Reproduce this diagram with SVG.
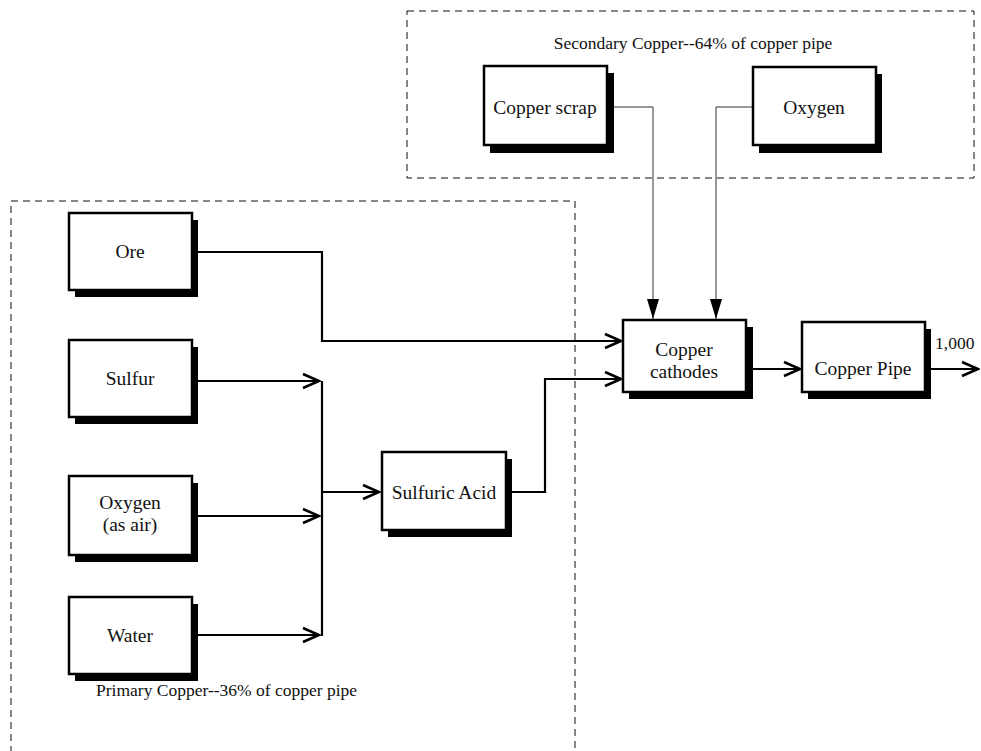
<svg xmlns="http://www.w3.org/2000/svg" width="981" height="751" viewBox="0 0 981 751">
  <style>
    .box { fill: #fff; stroke: #000; stroke-width: 2.5; }
    .shadow { fill: #000; }
    .lbl { font-family: "Liberation Serif", "Times New Roman", serif; font-size: 19.5px; fill: #111; text-anchor: middle; }
    .note { font-family: "Liberation Serif", "Times New Roman", serif; font-size: 17.5px; fill: #111; }
    .region { fill: none; stroke: #111; stroke-width: 1; stroke-dasharray: 7 5; }
    .flow { fill: none; stroke: #000; stroke-width: 2.2; }
    .thin { fill: none; stroke: #333; stroke-width: 1; }
  </style>
  <defs>
    <!-- open chevron head for the main flows -->
    <marker id="chev" viewBox="0 0 20 18" refX="19" refY="9" markerWidth="20" markerHeight="18" markerUnits="userSpaceOnUse" orient="auto">
      <path d="M2,2 L18,9 L2,16" fill="none" stroke="#000" stroke-width="2.6"/>
    </marker>
    <!-- solid head for the secondary feeds -->
    <marker id="tri" viewBox="0 0 20 12" refX="20" refY="6" markerWidth="20" markerHeight="12" markerUnits="userSpaceOnUse" orient="auto">
      <path d="M0,0 L20,6 L0,12 Z" fill="#000"/>
    </marker>
  </defs>

  <rect width="981" height="751" fill="#fff"/>

  <!-- Dashed process regions -->
  <g id="regions">
    <rect class="region" x="407" y="11" width="567" height="167"/>
    <text class="note" x="693" y="49" text-anchor="middle">Secondary Copper--64% of copper pipe</text>
    <path class="region" d="M575,760 V201 H11 V760"/>
    <text class="note" x="96" y="696">Primary Copper--36% of copper pipe</text>
  </g>

  <!-- Connectors -->
  <g id="connectors">
    <polyline class="flow" points="198,252 322,252 322,341 622,341" marker-end="url(#chev)"/>
    <polyline class="flow" points="198,381 320,381" marker-end="url(#chev)"/>
    <polyline class="flow" points="198,516 320,516" marker-end="url(#chev)"/>
    <polyline class="flow" points="198,635 320,635" marker-end="url(#chev)"/>
    <line class="flow" x1="322" y1="381" x2="322" y2="636"/>
    <polyline class="flow" points="322,492 380,492" marker-end="url(#chev)"/>
    <polyline class="flow" points="512,492 545,492 545,379 622,379" marker-end="url(#chev)"/>
    <polyline class="flow" points="753,369 801,369" marker-end="url(#chev)"/>
    <polyline class="flow" points="931,369 979,369" marker-end="url(#chev)"/>
    <text class="note" x="935" y="349">1,000</text>
    <polyline class="thin" points="614,107 653,107 653,319" marker-end="url(#tri)"/>
    <polyline class="thin" points="753,107 716,107 716,319" marker-end="url(#tri)"/>
  </g>

  <!-- Nodes -->
  <g id="ore">
    <rect class="shadow" x="75" y="220" width="123" height="77"/>
    <rect class="box" x="69" y="213" width="123" height="77"/>
    <text class="lbl" x="130" y="258">Ore</text>
  </g>
  <g id="sulfur">
    <rect class="shadow" x="75" y="347" width="123" height="77"/>
    <rect class="box" x="69" y="340" width="123" height="77"/>
    <text class="lbl" x="130" y="385">Sulfur</text>
  </g>
  <g id="oxygen-air">
    <rect class="shadow" x="75" y="483" width="123" height="79"/>
    <rect class="box" x="69" y="476" width="123" height="79"/>
    <text class="lbl" x="130" y="509">Oxygen</text>
    <text class="lbl" x="130" y="531">(as air)</text>
  </g>
  <g id="water">
    <rect class="shadow" x="75" y="604" width="123" height="77"/>
    <rect class="box" x="69" y="597" width="123" height="77"/>
    <text class="lbl" x="130" y="642">Water</text>
  </g>
  <g id="sulfuric-acid">
    <rect class="shadow" x="388" y="459" width="124" height="78"/>
    <rect class="box" x="382" y="452" width="124" height="78"/>
    <text class="lbl" x="444" y="499">Sulfuric Acid</text>
  </g>
  <g id="copper-scrap">
    <rect class="shadow" x="490" y="73" width="124" height="80"/>
    <rect class="box" x="484" y="66" width="123" height="79"/>
    <text class="lbl" x="545" y="114">Copper scrap</text>
  </g>
  <g id="oxygen">
    <rect class="shadow" x="759" y="74" width="123" height="79"/>
    <rect class="box" x="753" y="67" width="123" height="78"/>
    <text class="lbl" x="814" y="114">Oxygen</text>
  </g>
  <g id="copper-cathodes">
    <rect class="shadow" x="629" y="327" width="124" height="72"/>
    <rect class="box" x="623" y="320" width="123" height="72"/>
    <text class="lbl" x="684" y="356">Copper</text>
    <text class="lbl" x="684" y="378">cathodes</text>
  </g>
  <g id="copper-pipe">
    <rect class="shadow" x="808" y="329" width="123" height="70"/>
    <rect class="box" x="802" y="322" width="123" height="70"/>
    <text class="lbl" x="863" y="375">Copper Pipe</text>
  </g>
</svg>
